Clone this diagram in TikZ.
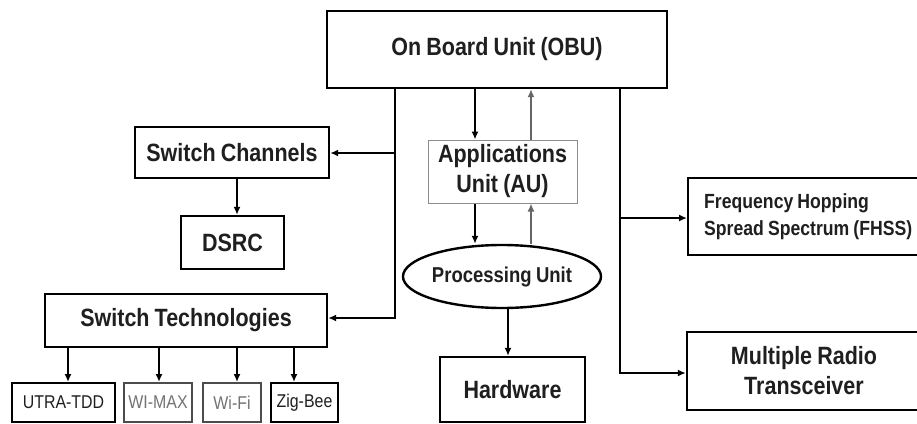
\documentclass[tikz,border=0pt]{standalone}
\usepackage{fontspec}
\setmainfont{Liberation Sans}
\newfontfamily\cf[FakeStretch=0.86,WordSpace=0.86]{Liberation Sans}
\newcommand\tightsp{\spaceskip=0.2em\relax}
\usetikzlibrary{shapes.geometric,arrows.meta}
\begin{document}
\begin{tikzpicture}[x=1pt,y=-1pt,
  box/.style={draw, line width=2.4pt, rectangle, inner sep=0pt, align=center, text=black!88},
  big/.style={font=\cf\bfseries\fontsize{25}{30}\selectfont},
  mid/.style={font=\cf\bfseries\fontsize{21.5}{27}\selectfont},
  fhs/.style={font=\cf\bfseries\fontsize{20.5}{27}\selectfont},
  small/.style={font=\cf\fontsize{18.5}{20}\selectfont},
  arr/.style={line width=1.7pt, -{Latex[length=8pt,width=7pt]}},
  ln/.style={line width=1.7pt}]
\useasboundingbox (0,0) rectangle (917,423);
\clip (0,0) rectangle (917,423);
\fill[white] (0,0) rectangle (917,423);

% boxes
\node[box,big,minimum width=340pt,minimum height=77pt] (obu) at (497,49.5) {\raisebox{-5pt}{On Board Unit (OBU)}};
\node[box,big,minimum width=194pt,minimum height=51pt] (sc) at (232,152.5) {Switch Channels};
\node[box,big,minimum width=103pt,minimum height=53pt] (dsrc) at (232.5,242.5) {\raisebox{-4pt}{DSRC}};
\node[box,big,minimum width=282pt,minimum height=53pt] (st) at (186,320.5) {\raisebox{-8pt}{Switch Technologies}};
\node[box,small,line width=2pt,minimum width=103pt,minimum height=39pt] (u) at (63.5,402.5) {UTRA-TDD};
\node[box,small,line width=2pt,draw=black!70,text=black!55,minimum width=68pt,minimum height=39pt] (w) at (158,402.5) {WI-MAX};
\node[box,small,line width=2pt,draw=black!70,text=black!55,minimum width=58pt,minimum height=39pt] (f) at (232,402.5) {Wi-Fi};
\node[box,small,line width=2pt,minimum width=67pt,minimum height=39pt] (z) at (304.5,402.5) {Zig-Bee};

\node[box,big,draw=black!45,line width=1pt,minimum width=149pt,minimum height=63pt] (au) at (502.5,171.5) {Applications\\Unit (AU)};
\node[draw,ellipse,line width=2.4pt,inner sep=0pt,mid,text=black!88,minimum width=172pt,minimum height=63pt] (pu) at (502,276.5) {Processing Unit};
\node[box,big,minimum width=145pt,minimum height=65pt] (hw) at (512.5,389.5) {Hardware};

\node[box,fhs,align=left,text width=250pt,inner xsep=16pt,minimum height=77pt,anchor=west] (fh) at (687,216.5) {\tightsp Frequency Hopping\\\tightsp Spread Spectrum (FHSS)};
\node[box,big,minimum width=234pt,minimum height=78pt] (mrt) at (804,371) {Multiple Radio\\Transceiver};

% helper coordinates
\coordinate (c1) at (395,153);
\coordinate (c2) at (395,318);
\coordinate (c3) at (620,218);
\coordinate (c4) at (620,373);
\coordinate (xa) at (475,0);
\coordinate (xb) at (531,0);
\coordinate (xh) at (508,0);
\coordinate (xu) at (68,0);
\coordinate (xw) at (159,0);
\coordinate (xf) at (237,0);
\coordinate (xz) at (294,0);
\coordinate (xd) at (237,0);

% left branch
\draw[arr] (obu.south -| c2) -- (c2) -- (c2 -| st.east);
\draw[arr] (c1) -- (c1 -| sc.east);
\draw[arr] (sc.south -| xd) -- (dsrc.north -| xd);
\draw[arr] (st.south -| xu) -- (u.north -| xu);
\draw[arr] (st.south -| xw) -- (w.north -| xw);
\draw[arr] (st.south -| xf) -- (f.north -| xf);
\draw[arr] (st.south -| xz) -- (z.north -| xz);

% middle
\draw[arr] (obu.south -| xa) -- (au.north -| xa);
\draw[arr,draw=black!60] (au.north -| xb) -- (obu.south -| xb);
\draw[arr] (au.south -| xa) -- (pu.north -| xa);
\draw[arr,draw=black!60] (pu.north -| xb) -- (au.south -| xb);
\draw[arr] (pu.south -| xh) -- (hw.north -| xh);

% right branch
\draw[arr] (obu.south -| c4) -- (c4) -- (c4 -| mrt.west);
\draw[arr] (c3) -- (c3 -| fh.west);
\end{tikzpicture}
\end{document}
